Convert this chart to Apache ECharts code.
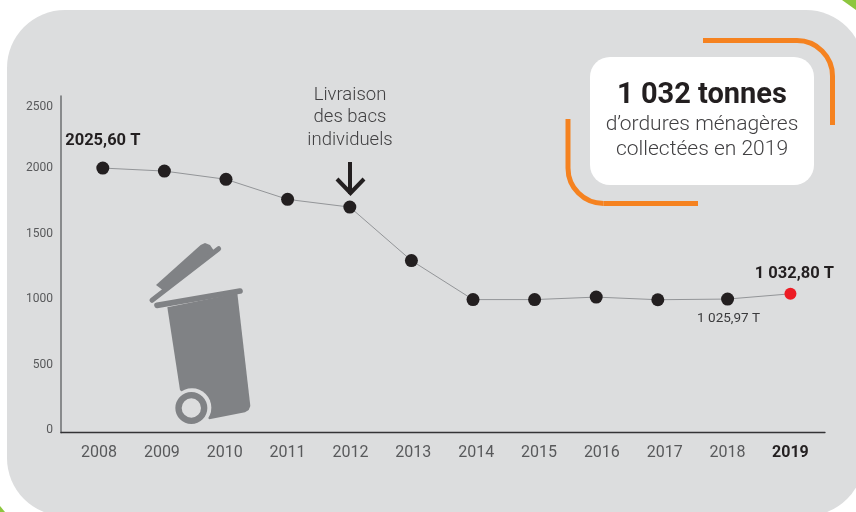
<!DOCTYPE html>
<html><head><meta charset="utf-8">
<style>html,body{margin:0;padding:0;background:#fff}#c{width:856px;height:512px}</style>
<script src="https://cdn.jsdelivr.net/npm/echarts@6/dist/echarts.min.js"></script>
</head><body><div id="c"></div>
<script>
const years = [2008,2009,2010,2011,2012,2013,2014,2015,2016,2017,2018,2019];
// horizontal position of each dot as drawn: the dots sit slightly off their year labels in the picture
const pointX = [2008.06,2009.04,2010.02,2011.0,2011.99,2012.97,2013.95,2014.93,2015.91,2016.89,2018.0,2019.0];
const tonnage = [2000,1977,1914,1761,1702,1294,996,996,1015,995,1000,1040];
const yTicks = [0,500,1000,1500,2000,2500];
const FONT = 'Roboto, sans-serif';
const INK = '#231f20', GREY = '#58595b', PANEL = '#dcddde', BIN = '#808285', ORANGE = '#f58220';

const labels = {
  0:{text:'2025,60 T',size:16.5,bold:true,off:[0,-27]},
  10:{text:'1 025,97 T',size:13.5,bold:false,off:[1,20],color:'#3a3a3c'},
  11:{text:'1 032,80 T',size:16.5,bold:true,off:[4,-20]}
};
const seriesData = years.map((y,i)=>{
  const d = {value:[pointX[i],tonnage[i]]};
  if(i===years.length-1){ d.itemStyle={color:'#ed1c24'}; d.symbolSize=12; }
  if(labels[i]){
    const l=labels[i];
    d.label={show:true,position:'inside',offset:l.off,formatter:l.text,fontFamily:FONT,fontSize:l.size,
      fontWeight:l.bold?'bold':'normal',color:l.color||INK};
  }
  return d;
});

function t(x,y,text,size,weight,color){
  return {type:'text',z:5,style:{x,y,text,align:'center',verticalAlign:'middle',
    font:`${weight} ${size}px Roboto, sans-serif`,fill:color}};
}
const binParts = {type:'group',x:130,y:230,scaleX:1/3,scaleY:1/3,z:1,children:[
  {type:'polygon',z:1,shape:{points:[[78,165],[212,45],[225,39],[240,45],[256,68],[105,185]]},style:{fill:BIN}},
  {type:'line',z:1,shape:{x1:66,y1:211,x2:266,y2:56},style:{stroke:BIN,lineWidth:15,lineCap:'round'}},
  {type:'polygon',z:1,shape:{points:[[112,232],[322,190],[361,528],[356,540],[345,547],[238,568],[150,480]]},style:{fill:BIN}},
  {type:'line',z:1,shape:{x1:81,y1:226,x2:330,y2:183},style:{stroke:BIN,lineWidth:17,lineCap:'round'}},
  {type:'circle',z:2,shape:{cx:186,cy:533,r:58},style:{fill:PANEL}},
  {type:'ring',z:3,shape:{cx:184,cy:534,r:48,r0:29},style:{fill:BIN}}
]};

const chart = echarts.init(document.getElementById('c'),null,{renderer:'canvas'});
chart.setOption({
  backgroundColor:'#ffffff',
  animation:false,
  graphic:{elements:[
    {type:'polygon',z:-3,silent:true,shape:{points:[[842,0],[856,0],[856,10]]},style:{fill:'#8dc63f'}},
    {type:'polygon',z:-3,silent:true,shape:{points:[[0,506],[5,512],[0,512]]},style:{fill:'#8dc63f'}},
    {type:'rect',z:-2,silent:true,shape:{x:7,y:10,width:857,height:506,r:58},style:{fill:PANEL}},
    binParts,
    {type:'rect',z:1,shape:{x:590,y:57,width:224,height:128,r:20},style:{fill:'#ffffff'}},
    {type:'line',z:1,shape:{x1:703,y1:40.5,x2:797,y2:40.5},style:{stroke:ORANGE,lineWidth:5}},
    {type:'arc',z:1,shape:{cx:797,cy:76,r:35.5,startAngle:-Math.PI/2,endAngle:0,clockwise:true},style:{fill:'none',stroke:ORANGE,lineWidth:5}},
    {type:'line',z:1,shape:{x1:832.5,y1:76,x2:832.5,y2:125},style:{stroke:ORANGE,lineWidth:5}},
    {type:'line',z:1,shape:{x1:568,y1:119,x2:568,y2:168},style:{stroke:ORANGE,lineWidth:5}},
    {type:'arc',z:1,shape:{cx:603.5,cy:168,r:35.5,startAngle:Math.PI/2,endAngle:Math.PI,clockwise:true},style:{fill:'none',stroke:ORANGE,lineWidth:5}},
    {type:'line',z:1,shape:{x1:603.5,y1:203.5,x2:698,y2:203.5},style:{stroke:ORANGE,lineWidth:5}},
    t(702,96,'1 032 tonnes',29,'bold',INK),
    t(702,125,'d\u2019ordures ménagères',21,300,'#414042'),
    t(702,150,'collectées en 2019',21,300,'#414042'),
    t(350,95,'Livraison',18.5,300,'#414042'),
    t(350,117,'des bacs',18.5,300,'#414042'),
    t(350,140,'individuels',18.5,300,'#414042'),
    {type:'line',z:5,shape:{x1:350,y1:162,x2:350,y2:194},style:{stroke:INK,lineWidth:4}},
    {type:'polyline',z:5,shape:{points:[[337,179],[350.5,193],[364,179]]},style:{stroke:INK,lineWidth:4,fill:'none'}}
  ]},
  grid:{left:61,top:96,width:764,height:336.7,containLabel:false},
  xAxis:{type:'value',min:2007.395,max:2019.55,splitLine:{show:false},
    axisLine:{show:true,onZero:false,lineStyle:{color:'#333335',width:1.3}},
    axisTick:{show:false},
    axisLabel:{customValues:years,margin:12,showMinLabel:true,showMaxLabel:true,fontFamily:FONT,fontSize:16,color:GREY,
      formatter:v=>v===2019?'{b|2019}':String(v),rich:{b:{fontFamily:FONT,fontSize:16,fontWeight:'bold',color:INK}}}},
  yAxis:{type:'value',min:-20,max:2550,splitLine:{show:false},
    axisLine:{show:true,onZero:false,lineStyle:{color:'#6d6e71',width:1.5}},
    axisTick:{show:false},
    axisLabel:{customValues:yTicks,margin:8,fontFamily:FONT,fontSize:12,color:GREY,
      formatter:v=>v===2500?'{t|2500}':String(v),
      rich:{t:{fontFamily:FONT,fontSize:12,color:GREY,padding:[8,0,0,0]}}}},
  series:[{type:'line',data:seriesData,symbol:'circle',symbolSize:13,z:3,
    lineStyle:{color:'#939598',width:1},itemStyle:{color:INK},
    label:{show:false}}]
});
</script></body></html>
